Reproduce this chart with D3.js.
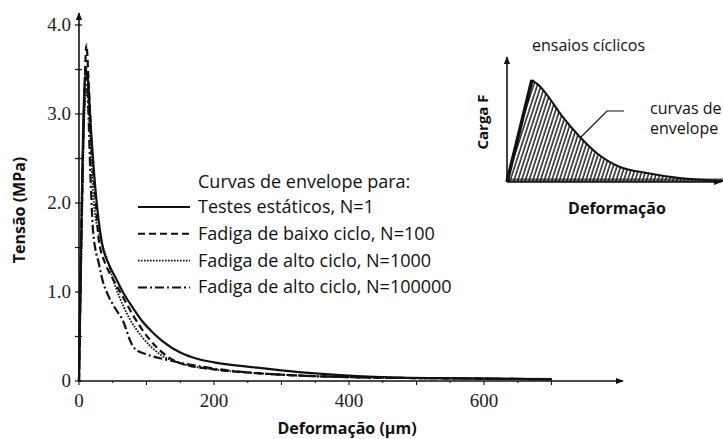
<!DOCTYPE html>
<html>
<head>
<meta charset="utf-8">
<script src="https://cdn.jsdelivr.net/npm/d3@7"></script>
<style>
  html, body { margin: 0; padding: 0; background: #fff; }
  svg { display: block; }
  .lbl { font-family: "Open Sans", sans-serif; fill: #111; }
  .tick-num { font-family: "Liberation Serif", serif; fill: #222; font-size: 19px; }
</style>
</head>
<body>
<svg id="chart" width="723" height="439"></svg>
<script>
// ─── Data ─────────────────────────────────────────────────────────────────────

// deformation (µm), stress (MPa)
const staticN1 = [[0,0],[3,1.5],[6,2.8],[10,3.5],[13,3.4],[18,2.8],[25,2.1],[34,1.55],[45,1.3],[55,1.15],[65,1.0],[80,0.82],[95,0.66],[110,0.54],[125,0.44],[150,0.32],[175,0.25],[200,0.21],[264,0.15],[300,0.12],[360,0.08],[460,0.04],[560,0.03],[700,0.02]];
const lowCycleN100 = [[0,0],[4,1.8],[8,3.2],[11,3.78],[14,3.4],[19,2.6],[25,2.0],[29,1.6],[40,1.3],[50,1.15],[61,1.0],[80,0.74],[101,0.5],[115,0.38],[130,0.28],[150,0.2],[200,0.13],[260,0.09],[330,0.06],[420,0.04],[550,0.03],[700,0.02]];
const highCycleN1000 = [[0,0],[4,1.6],[8,3.0],[12,3.3],[16,2.8],[22,2.0],[30,1.65],[41,1.38],[56,1.02],[75,0.7],[93,0.5],[120,0.3],[150,0.2],[200,0.13],[260,0.09],[330,0.06],[420,0.04],[550,0.03],[700,0.02]];
const highCycleN100000 = [[0,0],[3,1.5],[7,2.9],[10,3.55],[13,3.2],[17,2.3],[21,1.67],[30,1.3],[36,1.1],[41,1.0],[55,0.8],[65,0.68],[76,0.45],[83,0.36],[100,0.3],[135,0.23],[200,0.14],[260,0.09],[330,0.06],[420,0.04],[550,0.03],[700,0.02]];

const seriesNames = ["Testes estáticos, N=1", "Fadiga de baixo ciclo, N=100", "Fadiga de alto ciclo, N=1000", "Fadiga de alto ciclo, N=100000"];
const seriesDash = ["none", "7,4", "1.6,1.4", "9,3,2,3"];

const xTicks = [0, 200, 400, 600];
const yTicks = [0, 1, 2, 3, 4];
const yTickLabels = ["0", "1.0", "2.0", "3.0", "4.0"];

// inset: schematic envelope of cyclic tests (arbitrary units)
const insetEnvelope = [[0,0],[1.07,0.85],[1.4,0.8],[1.72,0.725],[2.4,0.54],[3.13,0.375],[3.86,0.24],[4.85,0.125],[6.0,0.075],[7.4,0.033],[9.3,0.01]];

// ─── Main chart ───────────────────────────────────────────────────────────────

const svg = d3.select("#chart");

const x = d3.scaleLinear().domain([0, 600]).range([79, 484]);
const y = d3.scaleLinear().domain([0, 4]).range([381, 25]);

const defs = svg.append("defs");
defs.append("marker")
  .attr("id", "arrow")
  .attr("viewBox", "0 0 10 10")
  .attr("refX", 9).attr("refY", 5)
  .attr("markerWidth", 8).attr("markerHeight", 8)
  .attr("markerUnits", "userSpaceOnUse")
  .attr("orient", "auto")
  .append("path")
  .attr("d", "M0,1 L10,5 L0,9 Z")
  .attr("fill", "#111");

// axes lines
svg.append("line")
  .attr("x1", x(0)).attr("x2", 623)
  .attr("y1", y(0)).attr("y2", y(0))
  .attr("stroke", "#111").attr("stroke-width", 1.6)
  .attr("marker-end", "url(#arrow)");
svg.append("line")
  .attr("x1", x(0)).attr("x2", x(0))
  .attr("y1", y(0)).attr("y2", 13)
  .attr("stroke", "#111").attr("stroke-width", 1.6)
  .attr("marker-end", "url(#arrow)");

// y ticks (every 0.5, crossing)
svg.append("g")
  .selectAll("line")
  .data(d3.range(0, 4.01, 0.5))
  .join("line")
  .attr("x1", x(0) - 4).attr("x2", x(0) + 3)
  .attr("y1", d => y(d)).attr("y2", d => y(d))
  .attr("stroke", "#111").attr("stroke-width", 1.2);

// x ticks (every 100, minor 50)
svg.append("g")
  .selectAll("line")
  .data(d3.range(0, 701, 50))
  .join("line")
  .attr("x1", d => x(d)).attr("x2", d => x(d))
  .attr("y1", y(0)).attr("y2", d => y(0) + (d % 100 === 0 ? 4 : 2))
  .attr("stroke", "#111").attr("stroke-width", 1.1);

svg.append("g")
  .selectAll("text")
  .data(yTicks)
  .join("text")
  .attr("class", "tick-num")
  .attr("x", x(0) - 8)
  .attr("y", d => y(d) + 6)
  .attr("text-anchor", "end")
  .text((d, i) => yTickLabels[i]);

svg.append("g")
  .selectAll("text")
  .data(xTicks)
  .join("text")
  .attr("class", "tick-num")
  .attr("x", d => x(d))
  .attr("y", 407)
  .attr("text-anchor", "middle")
  .text(d => d);

// axis titles
svg.append("text")
  .attr("class", "lbl")
  .attr("transform", "translate(25,210) rotate(-90)")
  .attr("text-anchor", "middle")
  .attr("font-size", "16px")
  .attr("font-weight", "700")
  .text("Tensão (MPa)");

svg.append("text")
  .attr("class", "lbl")
  .attr("x", 347).attr("y", 434)
  .attr("text-anchor", "middle")
  .attr("font-size", "16px")
  .attr("font-weight", "700")
  .text("Deformação (µm)");

// curves
const line = d3.line().x(d => x(d[0])).y(d => y(d[1])).curve(d3.curveMonotoneX);
const allSeries = [staticN1, lowCycleN100, highCycleN1000, highCycleN100000];

svg.append("g")
  .selectAll("path")
  .data(allSeries)
  .join("path")
  .attr("d", line)
  .attr("fill", "none")
  .attr("stroke", "#111")
  .attr("stroke-width", (d, i) => i === 2 ? 1.9 : 2.2)
  .attr("stroke-dasharray", (d, i) => seriesDash[i]);

// legend
const legend = svg.append("g");
legend.append("text")
  .attr("class", "lbl")
  .attr("x", 198).attr("y", 188)
  .attr("font-size", "18px")
  .text("Curvas de envelope para:");

seriesNames.forEach((name, i) => {
  const cy = 207 + i * 26.8;
  legend.append("line")
    .attr("x1", 138).attr("x2", 190)
    .attr("y1", cy).attr("y2", cy)
    .attr("stroke", "#111")
    .attr("stroke-width", i === 2 ? 1.8 : 2)
    .attr("stroke-dasharray", seriesDash[i]);
  legend.append("text")
    .attr("class", "lbl")
    .attr("x", 198).attr("y", cy + 6)
    .attr("font-size", "18px")
    .text(name);
});

// ─── Inset ────────────────────────────────────────────────────────────────────

const ix = d3.scaleLinear().domain([0, 10]).range([507, 740]);
const iy = d3.scaleLinear().domain([0, 1]).range([182, 62]);

const hatch = defs.append("pattern")
  .attr("id", "hatch")
  .attr("patternUnits", "userSpaceOnUse")
  .attr("width", 3.6).attr("height", 6)
  .attr("patternTransform", "rotate(18)");
hatch.append("line")
  .attr("x1", 1).attr("x2", 1).attr("y1", 0).attr("y2", 6)
  .attr("stroke", "#111").attr("stroke-width", 1.4);

const rising = insetEnvelope.slice(0, 2);
const decay = insetEnvelope.slice(1);

const riseLine = d3.line().x(d => ix(d[0])).y(d => iy(d[1]));
const decayLine = d3.line().x(d => ix(d[0])).y(d => iy(d[1])).curve(d3.curveMonotoneX);
const riseArea = d3.area().x(d => ix(d[0])).y0(iy(0)).y1(d => iy(d[1]));
const decayArea = d3.area().x(d => ix(d[0])).y0(iy(0)).y1(d => iy(d[1])).curve(d3.curveMonotoneX);

const inset = svg.append("g");
inset.append("path").datum(rising).attr("d", riseArea).attr("fill", "url(#hatch)");
inset.append("path").datum(decay).attr("d", decayArea).attr("fill", "url(#hatch)");

// dense band along the base
inset.append("rect")
  .attr("x", ix(0)).attr("y", iy(0.03))
  .attr("width", ix(9.3) - ix(0)).attr("height", iy(0) - iy(0.03))
  .attr("fill", "#111")
  .attr("opacity", 0.6);

// envelope: steep rise, smooth decay
inset.append("path")
  .datum(rising)
  .attr("d", riseLine)
  .attr("stroke", "#111")
  .attr("stroke-width", 3.5);
inset.append("path")
  .datum(decay)
  .attr("d", decayLine)
  .attr("fill", "none")
  .attr("stroke", "#111")
  .attr("stroke-width", 2);

inset.append("line")
  .attr("x1", ix(0)).attr("x2", ix(0))
  .attr("y1", iy(0)).attr("y2", 57)
  .attr("stroke", "#111").attr("stroke-width", 1.6)
  .attr("marker-end", "url(#arrow)");
inset.append("line")
  .attr("x1", ix(0)).attr("x2", 721)
  .attr("y1", iy(0)).attr("y2", iy(0))
  .attr("stroke", "#111").attr("stroke-width", 1.6)
  .attr("marker-end", "url(#arrow)");

// leader line to the envelope
inset.append("polyline")
  .attr("points", [[624, 111], [607, 111], [580, 138]].map(p => p.join(",")).join(" "))
  .attr("fill", "none")
  .attr("stroke", "#111")
  .attr("stroke-width", 1.2);

inset.append("text")
  .attr("class", "lbl")
  .attr("x", 532).attr("y", 51)
  .attr("font-size", "16px")
  .text("ensaios cíclicos");
inset.append("text")
  .attr("class", "lbl")
  .attr("x", 650).attr("y", 114)
  .attr("font-size", "16px")
  .text("curvas de");
inset.append("text")
  .attr("class", "lbl")
  .attr("x", 650).attr("y", 134)
  .attr("font-size", "16px")
  .text("envelope");
inset.append("text")
  .attr("class", "lbl")
  .attr("transform", "translate(488,122) rotate(-90)")
  .attr("text-anchor", "middle")
  .attr("font-size", "15px")
  .attr("font-weight", "700")
  .text("Carga F");
inset.append("text")
  .attr("class", "lbl")
  .attr("x", 617).attr("y", 214)
  .attr("text-anchor", "middle")
  .attr("font-size", "16px")
  .attr("font-weight", "700")
  .text("Deformação");
</script>
</body>
</html>
